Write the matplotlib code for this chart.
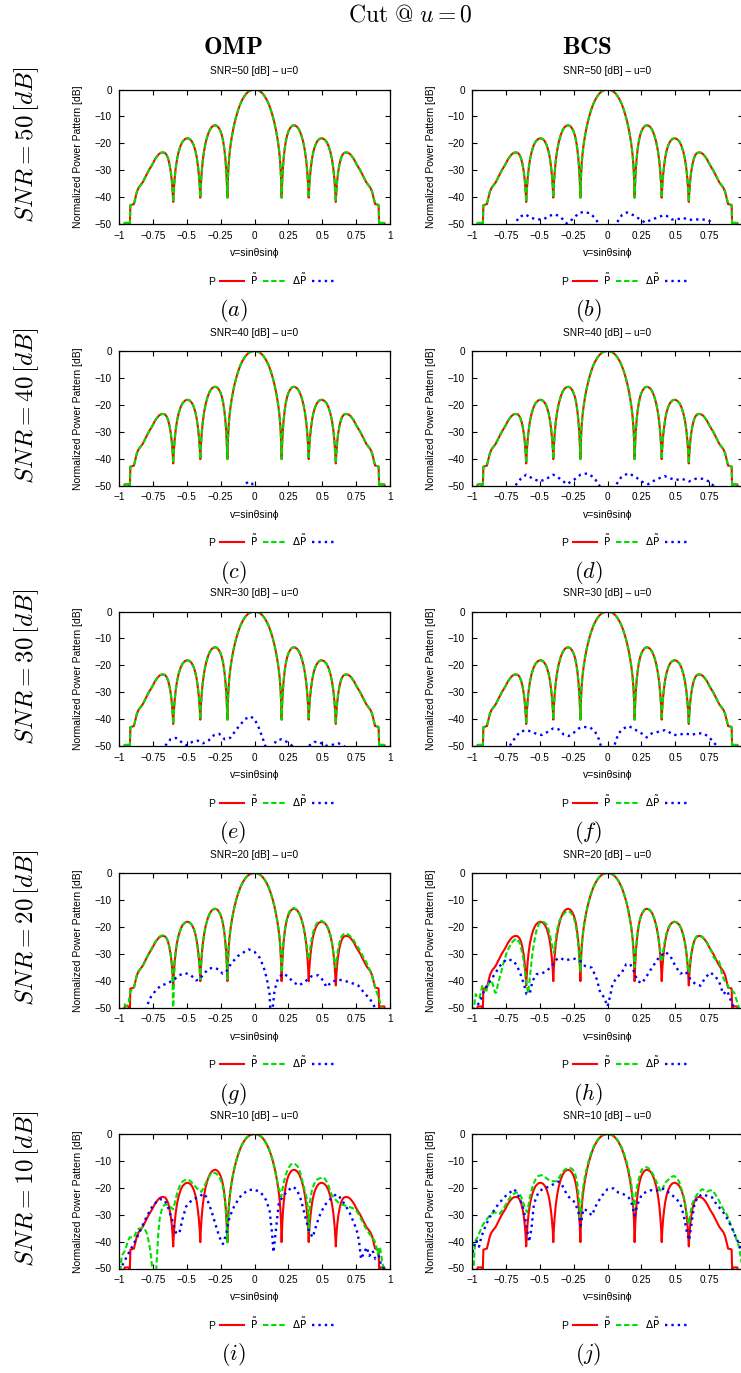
import numpy as np
import matplotlib
matplotlib.use('Agg')
import matplotlib.pyplot as plt

plt.rcParams['font.family'] = ['Liberation Sans', 'DejaVu Sans']
plt.rcParams['mathtext.fontset'] = 'cm'

W, H = 741, 1373

SNR = [50, 40, 30, 20, 10]
LETTERS = 'abcdefghij'
XTICKS = [-1, -0.75, -0.5, -0.25, 0, 0.25, 0.5, 0.75, 1]
XLABELS = ['\u22121', '\u22120.75', '\u22120.5', '\u22120.25', '0', '0.25', '0.5', '0.75', '1']
YTICKS = [0, -10, -20, -30, -40, -50]
YLABELS = ['0', '\u221210', '\u221220', '\u221230', '\u221240', '\u221250']

# reference pattern P (v, dB) - identical in all panels
P = [-0.97, -53, -0.958, -49.6, -0.93, -49.6, -0.92, -50.5, -0.916, -43, -0.89, -42.6,
     -0.88, -40.5, -0.868, -38, -0.855, -36.5, -0.84, -35.5, -0.825, -34.5, -0.81, -33,
     -0.795, -31.5, -0.78, -30, -0.765, -28.8, -0.75, -27.5, -0.735, -26, -0.72, -24.9,
     -0.705, -24, -0.69, -23.5, -0.675, -23.4, -0.66, -23.6, -0.648, -24.4, -0.638, -25.6,
     -0.628, -27.6, -0.618, -30.5, -0.61, -34, -0.604, -38, -0.6, -41.8, -0.596, -38,
     -0.59, -33.5, -0.582, -29.5, -0.572, -26, -0.56, -23.2, -0.545, -20.8, -0.53, -19.3,
     -0.512, -18.4, -0.495, -18.1, -0.478, -18.4, -0.462, -19.3, -0.448, -20.8, -0.436, -22.8,
     -0.426, -25.3, -0.417, -28.6, -0.41, -32, -0.404, -36, -0.4, -40.2, -0.396, -35.5,
     -0.39, -31, -0.382, -26.5, -0.372, -22.8, -0.36, -19.6, -0.345, -16.9, -0.33, -15,
     -0.315, -13.9, -0.3, -13.4, -0.288, -13.3, -0.275, -13.6, -0.262, -14.4, -0.25, -15.6,
     -0.24, -17.2, -0.231, -19.3, -0.223, -22, -0.216, -25.2, -0.21, -29, -0.205, -33.5,
     -0.2, -40.2, -0.196, -33, -0.191, -28, -0.185, -24.3, -0.177, -20.8, -0.168, -17.8,
     -0.158, -15, -0.147, -12.4, -0.135, -10, -0.12, -7.5, -0.105, -5.4, -0.09, -3.8,
     -0.075, -2.5, -0.06, -1.5, -0.045, -0.8, -0.03, -0.35, -0.015, -0.1, 0, 0,
     0.015, -0.1, 0.03, -0.35, 0.045, -0.8, 0.06, -1.5, 0.075, -2.5, 0.09, -3.8,
     0.105, -5.4, 0.12, -7.5, 0.135, -10, 0.147, -12.4, 0.158, -15, 0.168, -17.8,
     0.177, -20.8, 0.185, -24.3, 0.191, -28, 0.196, -33, 0.2, -40.2, 0.205, -33.5,
     0.21, -29, 0.216, -25.2, 0.223, -22, 0.231, -19.3, 0.24, -17.2, 0.25, -15.6,
     0.262, -14.4, 0.275, -13.6, 0.288, -13.3, 0.3, -13.4, 0.315, -13.9, 0.33, -15,
     0.345, -16.9, 0.36, -19.6, 0.372, -22.8, 0.382, -26.5, 0.39, -31, 0.396, -35.5,
     0.4, -40.2, 0.404, -36, 0.41, -32, 0.417, -28.6, 0.426, -25.3, 0.436, -22.8,
     0.448, -20.8, 0.462, -19.3, 0.478, -18.4, 0.495, -18.1, 0.512, -18.4, 0.53, -19.3,
     0.545, -20.8, 0.56, -23.2, 0.572, -26, 0.582, -29.5, 0.59, -33.5, 0.596, -38,
     0.6, -41.8, 0.604, -38, 0.61, -34, 0.618, -30.5, 0.628, -27.6, 0.638, -25.6,
     0.648, -24.4, 0.66, -23.6, 0.675, -23.4, 0.69, -23.5, 0.705, -24, 0.72, -24.9,
     0.735, -26, 0.75, -27.5, 0.765, -28.8, 0.78, -30, 0.795, -31.5, 0.81, -33,
     0.825, -34.5, 0.84, -35.5, 0.855, -36.5, 0.868, -38, 0.88, -40.5, 0.89, -42.6,
     0.91, -42.8, 0.916, -43, 0.92, -50.5, 0.93, -49.6, 0.958, -49.6, 0.97, -53]

# reconstructed patterns P~ for the noisier cases
PT_G = [-0.97, -52, -0.958, -48.8, -0.945, -49.5, -0.93, -49, -0.918, -44, -0.89, -42.8,
        -0.88, -40.5, -0.868, -38, -0.855, -36.5, -0.84, -35.5, -0.825, -34.5, -0.81, -33,
        -0.795, -31.5, -0.78, -30, -0.765, -28.6, -0.75, -27.2, -0.735, -25.8, -0.72, -24.7,
        -0.705, -23.8, -0.69, -23.3, -0.675, -23.2, -0.66, -23.5, -0.648, -24.3, -0.638, -25.6,
        -0.628, -27.6, -0.618, -30.5, -0.61, -34, -0.604, -42, -0.6, -56, -0.596, -44,
        -0.59, -33.5, -0.582, -29.5, -0.572, -26, -0.56, -23.2, -0.545, -20.8, -0.53, -19.3,
        -0.512, -18.4, -0.495, -18.1, -0.478, -18.4, -0.462, -19.3, -0.448, -20.8, -0.436, -22.8,
        -0.426, -25.3, -0.417, -28.6, -0.41, -32, -0.404, -36, -0.4, -39.5, -0.396, -35.5,
        -0.39, -31, -0.382, -26.5, -0.372, -22.8, -0.36, -19.6, -0.345, -16.9, -0.33, -15,
        -0.315, -13.9, -0.3, -13.4, -0.288, -13.3, -0.275, -13.6, -0.262, -14.4, -0.25, -15.6,
        -0.24, -17.2, -0.231, -19.3, -0.223, -22, -0.216, -25.2, -0.21, -29, -0.205, -33.5,
        -0.2, -39.5, -0.196, -33, -0.191, -28, -0.185, -24.3, -0.177, -20.8, -0.168, -17.8,
        -0.158, -15, -0.147, -12.4, -0.135, -10, -0.12, -7.5, -0.105, -5.4, -0.09, -3.8,
        -0.075, -2.5, -0.06, -1.5, -0.045, -0.8, -0.03, -0.35, -0.015, -0.1, 0, 0,
        0.015, -0.1, 0.03, -0.35, 0.045, -0.8, 0.06, -1.5, 0.075, -2.5, 0.09, -3.8,
        0.105, -5.4, 0.12, -7.5, 0.135, -10, 0.147, -12.4, 0.158, -15, 0.168, -17.8,
        0.177, -20.8, 0.185, -24.3, 0.191, -28, 0.196, -32, 0.2, -37, 0.205, -31,
        0.21, -27.5, 0.216, -24.2, 0.223, -21.3, 0.231, -18.8, 0.24, -16.8, 0.25, -15.2,
        0.262, -14, 0.275, -13.3, 0.288, -13, 0.3, -13.2, 0.315, -13.8, 0.33, -15,
        0.345, -16.9, 0.36, -19.6, 0.372, -22.8, 0.382, -26, 0.39, -29, 0.396, -31.5,
        0.4, -32, 0.404, -31, 0.41, -28.5, 0.417, -26, 0.426, -23.5, 0.436, -21.5,
        0.448, -19.8, 0.462, -18.6, 0.478, -17.9, 0.495, -17.8, 0.512, -18.3, 0.53, -19.3,
        0.545, -20.8, 0.56, -23.2, 0.572, -26, 0.582, -29.5, 0.59, -33, 0.596, -35,
        0.6, -35, 0.604, -33, 0.61, -30.5, 0.618, -28, 0.628, -25.8, 0.638, -24,
        0.648, -23.2, 0.66, -22.7, 0.675, -22.5, 0.69, -22.8, 0.705, -23.4, 0.72, -24.2,
        0.735, -25.3, 0.75, -26.5, 0.765, -27.7, 0.78, -29, 0.795, -30.5, 0.81, -31.8,
        0.825, -33.2, 0.84, -34.8, 0.855, -36.5, 0.868, -38.5, 0.88, -40.5, 0.89, -42.5,
        0.9, -44, 0.91, -45.5, 0.92, -47, 0.93, -48.5, 0.94, -50.5, 0.95, -53]

PT_H = [-0.99, -52, -0.973, -45, -0.955, -46.5, -0.943, -46.2, -0.925, -42, -0.914, -43.1,
        -0.894, -43.8, -0.874, -40.7, -0.855, -40, -0.844, -41.9, -0.83, -44.5, -0.82, -44.4,
        -0.808, -41, -0.795, -38.8, -0.77, -33.9, -0.74, -29, -0.709, -26, -0.685, -24.8,
        -0.672, -24.4, -0.647, -26, -0.635, -28.5, -0.622, -31.5, -0.605, -38, -0.598, -41.3,
        -0.585, -44.7, -0.575, -40, -0.568, -36.4, -0.558, -31.5, -0.548, -27.8, -0.535, -24,
        -0.523, -21.1, -0.505, -18.8, -0.486, -18, -0.465, -18.4, -0.449, -19.2, -0.437, -20.8,
        -0.425, -22.9, -0.415, -25.5, -0.405, -27.8, -0.395, -29.7, -0.385, -26, -0.375, -21.7,
        -0.355, -17.8, -0.338, -16.2, -0.31, -14.5, -0.289, -14.1, -0.27, -14.8, -0.252, -16.2,
        -0.238, -18.5, -0.227, -21.7, -0.215, -27, -0.207, -33.9, -0.2, -36.4, -0.196, -32,
        -0.191, -28, -0.185, -24.3, -0.177, -20.8, -0.168, -17.8, -0.158, -15, -0.147, -12.4,
        -0.135, -10, -0.12, -7.5, -0.105, -5.4, -0.09, -3.8, -0.075, -2.5, -0.06, -1.5,
        -0.045, -0.8, -0.03, -0.35, -0.015, -0.1, 0, 0,
        0.015, -0.1, 0.03, -0.35, 0.045, -0.8, 0.06, -1.5, 0.075, -2.5, 0.09, -3.8,
        0.105, -5.4, 0.12, -7.5, 0.135, -10, 0.147, -12.4, 0.158, -15, 0.168, -17.8,
        0.177, -20.8, 0.185, -24.3, 0.191, -28, 0.196, -31, 0.2, -35, 0.205, -31,
        0.21, -28, 0.216, -25.2, 0.223, -22, 0.231, -19.3, 0.24, -17.2, 0.25, -15.6,
        0.262, -14.4, 0.275, -13.6, 0.288, -13.3, 0.3, -13.4, 0.315, -13.9, 0.33, -15,
        0.345, -16.9, 0.36, -19.6, 0.372, -22.8, 0.382, -26.5, 0.39, -29.5, 0.396, -32,
        0.4, -33, 0.404, -32, 0.41, -29.5, 0.417, -27, 0.426, -24.5, 0.436, -22.3,
        0.448, -20.5, 0.462, -19.2, 0.478, -18.4, 0.495, -18.1, 0.512, -18.4, 0.53, -19.3,
        0.545, -20.8, 0.56, -23.2, 0.572, -26, 0.582, -29.5, 0.59, -33.5, 0.596, -36.5,
        0.6, -37, 0.604, -36, 0.61, -33, 0.618, -30, 0.628, -27.6, 0.638, -25.6,
        0.648, -24.4, 0.66, -23.6, 0.675, -23.4, 0.69, -23.5, 0.705, -24, 0.72, -24.9,
        0.735, -26, 0.75, -27.5, 0.765, -28.8, 0.785, -31.5, 0.805, -32.5, 0.822, -32.7,
        0.835, -35, 0.847, -38.2, 0.872, -40.7, 0.896, -42.5, 0.921, -43.8, 0.935, -44.5,
        0.946, -46.2, 0.963, -48.9, 0.975, -51]

PT_I = [-0.99, -51, -0.98, -45.3, -0.956, -43.4, -0.935, -40, -0.921, -38.4, -0.889, -38.4,
        -0.87, -36, -0.857, -35.3, -0.827, -34.9, -0.81, -35.3, -0.798, -36.5, -0.785, -39,
        -0.773, -42.1, -0.763, -46, -0.753, -51, -0.74, -55, -0.725, -50.5, -0.718, -44,
        -0.71, -37, -0.7, -31.5, -0.685, -28.2, -0.665, -26.3, -0.645, -26.2, -0.625, -26.8,
        -0.61, -27.6, -0.6, -28, -0.59, -26, -0.578, -23.4, -0.565, -21, -0.553, -19.4,
        -0.53, -17.6, -0.504, -16.9, -0.485, -17.1, -0.467, -17.8, -0.43, -19.9, -0.41, -21,
        -0.393, -21.5, -0.38, -20.5, -0.365, -18.8, -0.345, -16.7, -0.325, -15, -0.307, -14.4,
        -0.29, -14.5, -0.27, -15.3, -0.25, -17, -0.233, -19.6, -0.222, -23, -0.213, -27.5,
        -0.206, -33, -0.2, -40.3, -0.195, -33, -0.19, -28.4, -0.185, -24.5, -0.177, -20.8,
        -0.168, -17.8, -0.158, -15, -0.147, -12.4, -0.135, -10, -0.12, -7.5, -0.105, -5.4,
        -0.09, -3.8, -0.075, -2.5, -0.06, -1.5, -0.045, -0.8, -0.03, -0.35, -0.015, -0.1, 0, 0,
        0.015, -0.1, 0.03, -0.35, 0.045, -0.8, 0.06, -1.5, 0.075, -2.5, 0.09, -3.8,
        0.105, -5.4, 0.12, -7.5, 0.135, -10, 0.147, -12.4, 0.158, -15, 0.168, -17.8,
        0.177, -20, 0.184, -20.9, 0.191, -22, 0.197, -23.4, 0.205, -21, 0.214, -18.4,
        0.23, -15.3, 0.246, -13.1, 0.265, -11.5, 0.283, -10.9, 0.3, -11.2, 0.32, -12.1,
        0.336, -14.2, 0.351, -17.1, 0.368, -20.5, 0.386, -24, 0.395, -29, 0.4, -36,
        0.405, -29, 0.41, -25, 0.425, -20.5, 0.442, -18.4, 0.46, -17, 0.479, -16.5,
        0.504, -16.1, 0.522, -16.8, 0.54, -18.4, 0.565, -22.1, 0.585, -23.8, 0.602, -24.6,
        0.627, -25.9, 0.663, -26.5, 0.7, -27.1, 0.737, -27.8, 0.755, -28.8, 0.774, -30.3,
        0.81, -34, 0.848, -37.1, 0.885, -39.6, 0.9, -42, 0.909, -44.6, 0.918, -43,
        0.926, -42.1, 0.935, -45, 0.941, -47.1, 0.951, -49.6, 0.96, -52]

PT_J = [-0.995, -52, -0.988, -49.3, -0.98, -42, -0.973, -39.5, -0.96, -38.5, -0.948, -37,
        -0.935, -35.5, -0.923, -34, -0.899, -32.2, -0.869, -30.3, -0.85, -29.5, -0.832, -29.1,
        -0.815, -29.5, -0.795, -29.7, -0.77, -27.9, -0.75, -26.2, -0.733, -24.8, -0.715, -23.2,
        -0.696, -22.4, -0.675, -21.8, -0.659, -21.8, -0.645, -22.6, -0.635, -23.6, -0.622, -25.5,
        -0.61, -27.3, -0.593, -29.1, -0.583, -26.5, -0.573, -23.6, -0.56, -20.8, -0.548, -18.7,
        -0.53, -16.8, -0.511, -15.6, -0.486, -15.3, -0.465, -15.8, -0.449, -16.5, -0.43, -17.2,
        -0.412, -17.5, -0.39, -17.6, -0.375, -17.5, -0.362, -16.8, -0.351, -15.6, -0.33, -14,
        -0.314, -13.2, -0.295, -12.7, -0.277, -12.6, -0.26, -13, -0.247, -13.8, -0.235, -15.5,
        -0.222, -18.7, -0.212, -23.5, -0.206, -27.5, -0.202, -31, -0.196, -28, -0.19, -24.8,
        -0.185, -22, -0.177, -19, -0.168, -16.3, -0.158, -13.8, -0.147, -11.5, -0.135, -9.2,
        -0.12, -7, -0.105, -5, -0.09, -3.5, -0.075, -2.3, -0.06, -1.4, -0.045, -0.7,
        -0.03, -0.3, -0.015, -0.1, 0, 0,
        0.015, -0.1, 0.03, -0.3, 0.045, -0.7, 0.06, -1.4, 0.075, -2.3, 0.09, -3.5,
        0.105, -5, 0.12, -7, 0.135, -9.2, 0.147, -11.5, 0.158, -13.8, 0.168, -16.3,
        0.177, -19, 0.185, -23, 0.193, -28.5, 0.2, -25.5, 0.207, -23, 0.222, -18.7,
        0.238, -15.2, 0.254, -13.2, 0.27, -12.5, 0.286, -12.3, 0.303, -12.7, 0.321, -13.8,
        0.338, -15.2, 0.353, -16.9, 0.372, -19, 0.39, -21.1, 0.4, -21.5, 0.415, -19.3,
        0.432, -17.8, 0.452, -16.9, 0.47, -16, 0.489, -15.6, 0.508, -16.2, 0.526, -17.5,
        0.54, -19.5, 0.558, -22.4, 0.572, -25.5, 0.583, -29.7, 0.6, -33.4, 0.612, -29.5,
        0.625, -26, 0.645, -23.8, 0.662, -22.4, 0.68, -21.3, 0.699, -20.5, 0.718, -21,
        0.736, -21.4, 0.755, -21, 0.773, -20.9, 0.79, -22, 0.81, -23.6, 0.83, -25.5,
        0.847, -27.3, 0.865, -28.8, 0.884, -30.3, 0.9, -32.5, 0.921, -35.2, 0.935, -36.8,
        0.946, -38.3, 0.958, -40.2, 0.97, -41.9, 0.983, -45.6, 0.99, -48]

# error patterns Delta P~
DP_A = [-0.3, -56, 0, -54, 0.3, -56]
DP_B = [-0.69, -51, -0.68, -50, -0.656, -47.5, -0.607, -46.4, -0.565, -47.7, -0.52, -48.3,
        -0.472, -48.3, -0.435, -47, -0.386, -46.4, -0.349, -47.3, -0.3, -49.8, -0.25, -47.9,
        -0.214, -46, -0.177, -45.5, -0.128, -46, -0.091, -47.9, -0.066, -49.8, -0.05, -52,
        0.05, -52, 0.069, -49.5, 0.106, -46.7, 0.143, -45.7, 0.19, -46.7, 0.229, -47.9,
        0.278, -49.5, 0.327, -48.3, 0.376, -47.5, 0.413, -46.7, 0.437, -47, 0.474, -48.3,
        0.51, -48.3, 0.56, -47.7, 0.597, -48.5, 0.646, -48.3, 0.695, -48.3, 0.744, -48.5,
        0.781, -50, 0.8, -52]
DP_C = [-0.12, -53, -0.09, -51, -0.07, -49.5, -0.045, -48.6, -0.02, -49.2, 0.0, -50.5, 0.02, -53]
DP_D = [-0.7, -52, -0.68, -50, -0.64, -47.5, -0.6, -46, -0.55, -47.5, -0.5, -48.5,
        -0.45, -47.5, -0.4, -46, -0.35, -47.5, -0.3, -49.5, -0.25, -48, -0.2, -46,
        -0.15, -45.5, -0.1, -47, -0.06, -50, -0.04, -52, 0.04, -52, 0.06, -50,
        0.1, -47, 0.15, -45.5, 0.2, -46.5, 0.25, -48.5, 0.3, -49.5, 0.35, -48,
        0.42, -46.5, 0.5, -48, 0.55, -47.5, 0.6, -48.5, 0.65, -47.5, 0.7, -47.5,
        0.75, -48.5, 0.78, -50, 0.8, -52]
DP_E = [-0.68, -52, -0.66, -50, -0.62, -47.5, -0.58, -47, -0.54, -48.5, -0.5, -49.8,
        -0.46, -48.5, -0.42, -48, -0.38, -49, -0.34, -48, -0.3, -46, -0.26, -45.5,
        -0.22, -47.5, -0.18, -47, -0.12, -43, -0.07, -40, -0.03, -39, 0, -40,
        0.03, -43, 0.06, -47, 0.08, -50, 0.1, -52, 0.12, -52, 0.14, -50, 0.16, -48,
        0.2, -47.5, 0.24, -48.5, 0.28, -50, 0.3, -52, 0.38, -52, 0.4, -50,
        0.44, -48.5, 0.48, -48.5, 0.52, -50, 0.58, -49.5, 0.62, -49, 0.66, -50, 0.68, -52]
DP_F = [-0.74, -52, -0.722, -50, -0.68, -46.8, -0.644, -44.7, -0.6, -44.1, -0.558, -44.7,
        -0.52, -45.6, -0.484, -45.9, -0.447, -44.9, -0.403, -43.5, -0.361, -43.8, -0.324, -45.7,
        -0.287, -46.3, -0.25, -45.1, -0.214, -43.5, -0.177, -42.9, -0.128, -43.1, -0.091, -44.7,
        -0.066, -47.2, -0.049, -50, -0.035, -52, 0.04, -52, 0.052, -49.6, 0.081, -45.3,
        0.118, -43.5, 0.155, -42.6, 0.192, -43.5, 0.229, -44.7, 0.265, -45.7, 0.29, -46.8,
        0.327, -45.3, 0.376, -44.7, 0.425, -44.1, 0.45, -44.7, 0.486, -45.9, 0.523, -45.9,
        0.572, -45.3, 0.622, -45.9, 0.658, -45.3, 0.708, -45.3, 0.744, -46.5, 0.781, -48.4,
        0.806, -50, 0.82, -52]
DP_G = [-0.8, -51, -0.79, -48.9, -0.765, -46.1, -0.728, -43.6, -0.69, -41.8, -0.642, -41.1,
        -0.593, -39.6, -0.556, -38, -0.511, -37.2, -0.469, -38, -0.432, -39.9, -0.407, -39.6,
        -0.37, -37.2, -0.333, -35.5, -0.296, -35.2, -0.264, -35.9, -0.235, -37.4, -0.21, -36.8,
        -0.173, -33.7, -0.123, -30.9, -0.074, -29.3, -0.042, -28.4, 0, -29.3, 0.037, -31.4,
        0.067, -34.9, 0.091, -39.3, 0.111, -44.9, 0.116, -50, 0.125, -53, 0.136, -49.3,
        0.148, -43.6, 0.173, -39.3, 0.21, -37.4, 0.247, -38.4, 0.284, -40.5, 0.328, -41.8,
        0.37, -40.5, 0.42, -38.4, 0.469, -38, 0.506, -39.9, 0.531, -42.4, 0.568, -40.5,
        0.617, -39.6, 0.667, -40.1, 0.716, -40.9, 0.765, -41.8, 0.815, -44.9, 0.852, -46.8,
        0.881, -49.3, 0.889, -50, 0.9, -52]
DP_H = [-0.985, -51, -0.973, -49.9, -0.943, -48, -0.906, -43.1, -0.874, -40.7, -0.832, -37.6,
        -0.795, -34.6, -0.746, -32.1, -0.696, -32.5, -0.667, -34.6, -0.642, -37.6, -0.617, -41.3,
        -0.598, -45, -0.573, -44.7, -0.553, -40.1, -0.523, -37.6, -0.486, -37.4, -0.449, -36.4,
        -0.412, -34.6, -0.375, -32.1, -0.351, -31.5, -0.314, -32.5, -0.277, -32.1, -0.24, -31.9,
        -0.202, -32.7, -0.165, -34.6, -0.116, -35.2, -0.079, -39.5, -0.054, -44.4, -0.025, -46.2,
        0, -49.6, 0.02, -45.6, 0.037, -41.3, 0.069, -38.8, 0.106, -37, 0.138, -33.9,
        0.168, -33.9, 0.193, -36.4, 0.222, -40.1, 0.254, -41, 0.291, -38.2, 0.328, -35.2,
        0.378, -31.5, 0.427, -29.3, 0.464, -30.9, 0.501, -34.6, 0.538, -37.4, 0.575, -36.6,
        0.612, -39.5, 0.649, -41.3, 0.686, -41.9, 0.723, -38.8, 0.76, -37, 0.79, -38.2,
        0.822, -40.1, 0.854, -45, 0.884, -43.8, 0.914, -48, 0.933, -49.9, 0.945, -52]
DP_I = [-0.995, -51, -0.983, -49.6, -0.958, -47.1, -0.926, -44, -0.892, -40.9, -0.848, -36.5,
        -0.798, -30.9, -0.749, -26.5, -0.7, -24.2, -0.663, -24.6, -0.639, -27.1, -0.607, -32.1,
        -0.577, -37.1, -0.553, -36.5, -0.528, -30.9, -0.504, -26.9, -0.459, -24.4, -0.41, -23.4,
        -0.376, -22.1, -0.356, -23.4, -0.319, -28.4, -0.282, -34.6, -0.258, -38.4, -0.233, -40.9,
        -0.209, -37.1, -0.184, -30.9, -0.147, -26.5, -0.098, -22.8, -0.049, -20.9, 0, -20.6,
        0.049, -21.9, 0.086, -24.6, 0.111, -28.4, 0.13, -37.1, 0.14, -44, 0.155, -37.1,
        0.179, -25.9, 0.214, -22.8, 0.258, -20.6, 0.283, -19.6, 0.312, -20.6, 0.344, -24.6,
        0.381, -32.1, 0.405, -36.5, 0.43, -38.4, 0.459, -33.4, 0.491, -29, 0.528, -25.9,
        0.565, -24, 0.602, -22.4, 0.627, -23.4, 0.663, -25.9, 0.7, -29, 0.737, -33.4,
        0.762, -37.1, 0.774, -40.9, 0.786, -46.5, 0.81, -44, 0.828, -42.1, 0.848, -45.3,
        0.872, -43.4, 0.892, -46.5, 0.916, -45.3, 0.933, -48.4, 0.951, -49.6, 0.96, -52]
DP_J = [-0.995, -44, -0.988, -41.9, -0.968, -39.5, -0.948, -41.9, -0.931, -38.3, -0.899, -34,
        -0.869, -30.9, -0.832, -27.9, -0.795, -25.4, -0.751, -23, -0.721, -21.8, -0.691, -20.5,
        -0.667, -21.8, -0.642, -24.8, -0.617, -28.5, -0.593, -35.8, -0.578, -40.1, -0.56, -34.6,
        -0.543, -26, -0.511, -21.8, -0.474, -20.2, -0.437, -19.7, -0.4, -18.7, -0.363, -17.7,
        -0.338, -18.7, -0.301, -22.4, -0.272, -24.2, -0.24, -25.4, -0.215, -29.1, -0.198, -34,
        -0.178, -27.9, -0.148, -28.5, -0.116, -30.3, -0.079, -26, -0.042, -23, 0, -20.5,
        0.044, -20.2, 0.081, -21.8, 0.119, -22.4, 0.156, -23.6, 0.18, -26, 0.2, -30.3,
        0.222, -26, 0.254, -22.4, 0.291, -21.4, 0.321, -20.9, 0.36, -21.1, 0.395, -20.2,
        0.427, -20.5, 0.464, -22.4, 0.501, -23.6, 0.538, -26, 0.563, -30.3, 0.583, -35.8,
        0.602, -39.5, 0.617, -34.6, 0.637, -27.1, 0.662, -23.6, 0.699, -22.4, 0.736, -23,
        0.773, -23.6, 0.81, -26.6, 0.847, -28.5, 0.884, -31.5, 0.921, -35.2, 0.946, -38.3,
        0.97, -40.7, 0.988, -43.8]

GREENS = [P, P, P, P, P, P, PT_G, PT_H, PT_I, PT_J]
BLUES = [DP_A, DP_B, DP_C, DP_D, DP_E, DP_F, DP_G, DP_H, DP_I, DP_J]


def xy(seq):
    a = np.array(seq, dtype=float).reshape(-1, 2)
    return a[:, 0], a[:, 1]


fig = plt.figure(figsize=(W / 100, H / 100), dpi=100)


def fx(x):
    return x / W


def fy(y):
    return 1 - y / H


row_tops = [89.5, 351, 611.5, 873, 1134]
col_lefts = [119, 472]
ax_w, ax_h = 271, 134.5

for i in range(10):
    r, c = divmod(i, 2)
    left, top = col_lefts[c], row_tops[r]
    ax = fig.add_axes([fx(left), fy(top + ax_h), ax_w / W, ax_h / H])

    pv, pdb = xy(P)
    gv, gdb = xy(GREENS[i])
    bv, bdb = xy(BLUES[i])
    l1, = ax.plot(pv, pdb, color='#ff0000', lw=1.5)
    l2, = ax.plot(gv, gdb, color='#00e000', lw=1.5, linestyle=(0, (2.6, 1.3)))
    l3, = ax.plot(bv, bdb, color='#0000ff', lw=1.7, linestyle=(0, (1, 1.7)))

    ax.set_xlim(-1, 1)
    ax.set_ylim(-50, 0)
    ax.set_xticks(XTICKS)
    labels = list(XLABELS)
    if c == 1:
        labels[-1] = ''  # falls off the right edge of the page
    ax.set_xticklabels(labels)
    ax.set_yticks(YTICKS)
    ax.set_yticklabels(YLABELS)
    ax.tick_params(direction='in', top=True, right=True, length=3.5, width=0.8,
                   labelsize=7.2, pad=5)
    for s in ax.spines.values():
        s.set_linewidth(0.9)

    ax.text(0.5, 1 + 18 / ax_h, 'SNR=%d [dB] \u2013 u=0' % SNR[r], transform=ax.transAxes,
            ha='center', va='center', fontsize=7.3)
    ax.text(0.5, -29 / ax_h, 'v=sin\u03b8sin\u03d5', transform=ax.transAxes,
            ha='center', va='center', fontsize=7.5)
    ax.text(-41 / ax_w, 0.5, 'Normalized Power Pattern [dB]', transform=ax.transAxes,
            ha='center', va='center', rotation=90, fontsize=7.5)

    leg = ax.legend([l1, l2, l3], ['P', r'$\tilde{\mathrm{P}}$', r'$\Delta\tilde{\mathrm{P}}$'],
                    loc='center', bbox_to_anchor=(0.565, -55 / ax_h), ncol=3, frameon=False,
                    markerfirst=False, handlelength=2.3, handletextpad=0.5,
                    columnspacing=0.5, fontsize=7.5, borderaxespad=0)
    for t in leg.get_texts():
        t.set_math_fontfamily('dejavusans')

    fig.text(fx(233 if c == 0 else 588), fy(top + 221), r'$(%s)$' % LETTERS[i],
             ha='center', va='center', fontsize=16)

fig.text(fx(410), fy(15), r'$\mathrm{Cut\ @}\ u = 0$', ha='center', va='center', fontsize=17)
fig.text(fx(233), fy(47), r'$\mathbf{OMP}$', ha='center', va='center', fontsize=18)
fig.text(fx(587), fy(47), r'$\mathbf{BCS}$', ha='center', va='center', fontsize=18)
for r in range(5):
    fig.text(fx(27), fy(row_tops[r] + 55), r'$SNR = %d\,[dB]$' % SNR[r],
             ha='center', va='center', rotation=90, fontsize=18)

fig.savefig('out.png', dpi=100)
